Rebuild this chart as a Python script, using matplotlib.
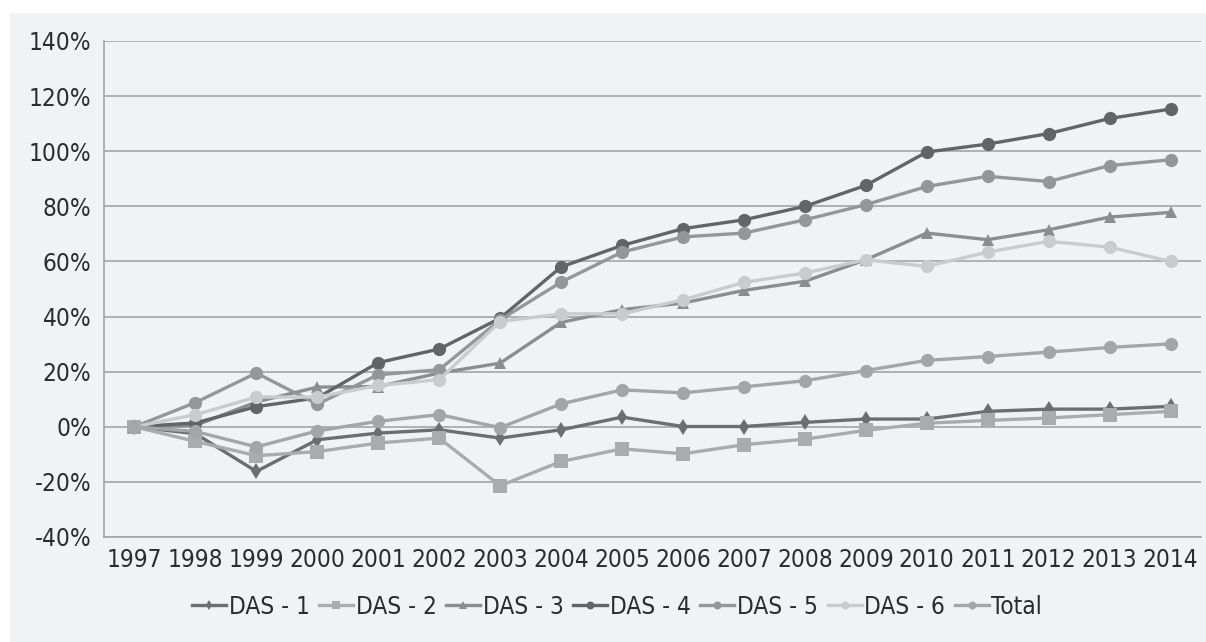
import matplotlib
matplotlib.use("Agg")
import matplotlib.pyplot as plt
from matplotlib.patches import Rectangle
from matplotlib.ticker import FuncFormatter

plt.rcParams['font.family'] = ['Liberation Sans Narrow', 'DejaVu Sans']
plt.rcParams['font.stretch'] = 'condensed'

years = [str(y) for y in range(1997, 2015)]

das1 = [0, -2.5, -16.2, -4.7, -2.3, -1.1, -4.1, -1.1, 3.5, 0.1, 0.1, 1.6, 2.8, 2.8, 5.6, 6.4, 6.4, 7.4]
das2 = [0, -5.3, -10.5, -9.0, -5.9, -4.1, -21.4, -12.6, -8.0, -9.8, -6.5, -4.5, -1.3, 1.3, 2.3, 3.2, 4.4, 5.6]
das3 = [0, 0.5, 9.0, 14.4, 14.6, 19.5, 23.1, 37.9, 42.5, 44.9, 49.5, 52.8, 60.6, 70.3, 67.9, 71.5, 76.1, 77.8]
das4 = [0, 1.4, 7.3, 10.5, 23.3, 28.2, 39.4, 58.0, 65.8, 71.9, 75.1, 80.0, 87.6, 99.7, 102.6, 106.4, 111.9, 115.3]
das5 = [0, 8.8, 19.5, 8.2, 18.9, 20.7, 38.8, 52.5, 63.4, 68.9, 70.3, 75.1, 80.6, 87.2, 90.9, 89.0, 94.8, 96.9]
das6 = [0, 4.4, 10.8, 10.8, 15.0, 17.1, 38.2, 41.0, 41.0, 46.1, 52.4, 55.8, 60.6, 58.2, 63.4, 67.3, 65.2, 60.0]
total = [0, -1.7, -7.3, -1.5, 2.0, 4.4, -0.3, 8.3, 13.4, 12.3, 14.5, 16.7, 20.4, 24.1, 25.5, 27.1, 28.8, 30.1]

names = ['DAS - 1', 'DAS - 2', 'DAS - 3', 'DAS - 4', 'DAS - 5', 'DAS - 6', 'Total']
series = [das1, das2, das3, das4, das5, das6, total]
colors = ['#6d6e71', '#a9abae', '#8b8d90', '#636466', '#949699', '#cacbcd', '#a3a5a8']
markers = ['d', 's', '^', 'o', 'o', 'o', 'o']
msizes = [8, 9.5, 9, 9.5, 9.5, 9.5, 9.5]

bg = '#f1f2f4'
fig = plt.figure(figsize=(12.06, 6.42), dpi=100)
fig.patch.set_facecolor('white')
# grey panel behind everything, leaving a thin white strip top and left
panel = Rectangle((10 / 1206, 0), 1 - 10 / 1206, 1 - 13 / 642,
                  transform=fig.transFigure, facecolor=bg,
                  edgecolor='none', zorder=-10)
fig.add_artist(panel)

ax = fig.add_axes([104 / 1206, 1 - 537 / 642, (1201 - 104) / 1206, (537 - 41) / 642])
ax.set_facecolor(bg)

x = list(range(len(years)))
handles = []
for vals, name, c, m, ms in zip(series, names, colors, markers, msizes):
    h, = ax.plot(x, vals, color=c, lw=2.4, marker=m, markersize=ms,
                 markeredgewidth=0, label=name, zorder=3)
    handles.append(h)

ax.set_xlim(-0.5, len(years) - 0.5)
ax.set_ylim(-40, 140)
ax.set_yticks(range(-40, 141, 20))
ax.yaxis.set_major_formatter(FuncFormatter(lambda v, p: f'{int(v)}%'))
ax.set_xticks(x)
ax.set_xticklabels(years)

ax.grid(axis='y', color='#a4a4a4', lw=1.2, zorder=1)
for s in ['top', 'right']:
    ax.spines[s].set_visible(False)
for s in ['left', 'bottom']:
    ax.spines[s].set_color('#a4a4a4')
    ax.spines[s].set_linewidth(1.2)
ax.tick_params(axis='both', length=0, labelsize=17.5, labelcolor='#2b2b2b')
ax.tick_params(axis='y', pad=9)
ax.tick_params(axis='x', pad=8)

leg = fig.legend(handles=handles, loc='center', ncol=7,
                 bbox_to_anchor=(617 / 1206, 1 - 607 / 642), frameon=False,
                 fontsize=17.5, handlelength=1.4, handletextpad=0.1,
                 columnspacing=0.4, markerscale=0.6)
for t in leg.get_texts():
    t.set_color('#2b2b2b')

fig.savefig('out.png', dpi=100, facecolor=fig.get_facecolor())
